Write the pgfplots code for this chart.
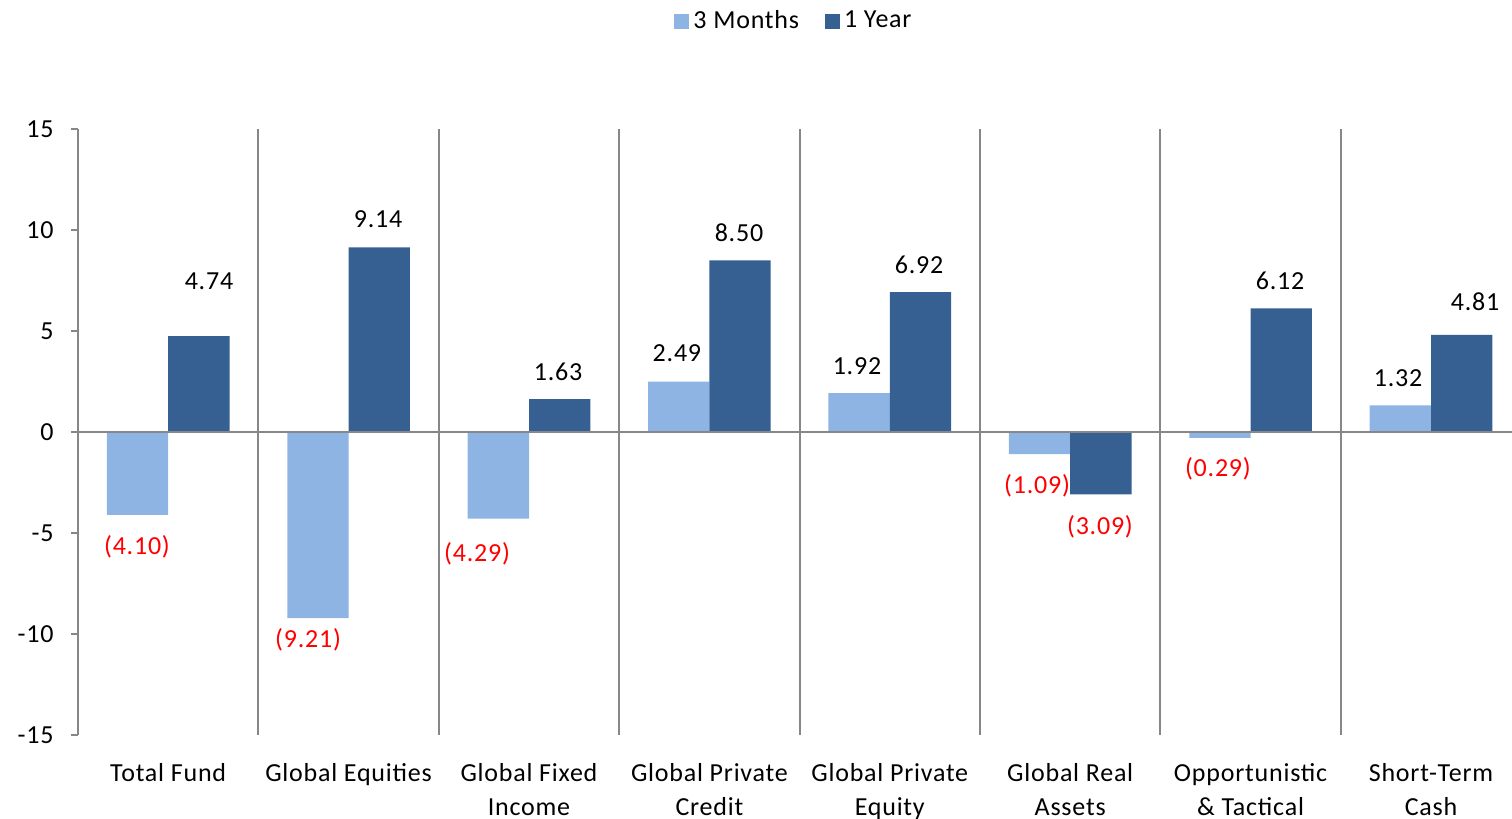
\documentclass[border=0pt]{standalone}
\usepackage{fontspec}
\setmainfont{Carlito}[LetterSpace=3]
\usepackage{pgfplots}
\pgfplotsset{compat=1.18}
\definecolor{lightb}{HTML}{8EB4E3}
\definecolor{darkb}{HTML}{366092}
\definecolor{axgray}{HTML}{878787}
\newcommand\lblfont{\fontsize{13}{17}\selectfont}
\begin{document}
\begin{tikzpicture}
\useasboundingbox (0,0) rectangle (756pt,409.5pt);
\begin{axis}[
  at={(39pt,345pt)}, anchor=north west,
  scale only axis, width=717pt, height=303pt,
  xmin=-0.5, xmax=7.449, ymin=-15, ymax=15,
  axis y line*=left, axis x line*=bottom,
  x axis line style={draw=none},
  y axis line style={axgray, line width=1pt},
  ytick={-15,-10,...,15},
  ytick style={axgray, line width=1pt},
  tick align=outside, major tick length=3.5pt,
  xtick={0,...,7}, xtick style={draw=none},
  xticklabels={Total Fund, Global Equities, {Global Fixed\\Income}, {Global Private\\Credit}, {Global Private\\Equity}, {Global Real\\Assets}, {Opportunistic\\\& Tactical}, {Short-Term\\Cash}},
  xticklabel style={align=center, anchor=north, inner sep=0pt, yshift=-10.5pt, font=\lblfont},
  yticklabel style={anchor=east, inner sep=0pt, xshift=-8.5pt, font=\lblfont},
  /pgf/number format/assume math mode=true,
  clip=false,
  legend style={at={(0.5,1.178)}, anchor=center, draw=none, legend columns=2, font=\lblfont, /tikz/every even column/.append style={column sep=11pt}},
]
\foreach \k in {0.5,1.5,...,6.5} {
  \edef\tmp{\noexpand\draw[axgray, line width=1pt] (axis cs:\k,-15) -- (axis cs:\k,15);}
  \tmp
}
\addplot[ybar, fill=lightb, draw=none, bar width=0.34, bar shift=-0.17,
  legend image code/.code={\fill[lightb] (0pt,-3.75pt) rectangle (7.5pt,3.75pt);}]
  coordinates {(0,-4.10) (1,-9.21) (2,-4.29) (3,2.49) (4,1.92) (5,-1.09) (6,-0.29) (7,1.32)};
\addlegendentry{3 Months}
\addplot[ybar, fill=darkb, draw=none, bar width=0.34, bar shift=0.17,
  legend image code/.code={\fill[darkb] (0pt,-3.75pt) rectangle (7.5pt,3.75pt);}]
  coordinates {(0,4.74) (1,9.14) (2,1.63) (3,8.50) (4,6.92) (5,-3.09) (6,6.12) (7,4.81)};
\addlegendentry{1 Year}
\draw[axgray, line width=1pt] (axis cs:-0.5,0) -- (axis cs:7.449,0);
\begin{scope}[every node/.style={font=\lblfont, inner sep=0pt}]
\node at (axis cs:0.226,7.48) {4.74};
\node[red] at (axis cs:-0.173,-5.69) {(4.10)};
\node at (axis cs:1.163,10.54) {9.14};
\node[red] at (axis cs:0.775,-10.30) {(9.21)};
\node at (axis cs:2.161,2.97) {1.63};
\node[red] at (axis cs:1.712,-6.04) {(4.29)};
\node at (axis cs:2.820,3.91) {2.49};
\node at (axis cs:3.164,9.85) {8.50};
\node at (axis cs:3.818,3.27) {1.92};
\node at (axis cs:4.162,8.27) {6.92};
\node[red] at (axis cs:4.816,-2.67) {(1.09)};
\node[red] at (axis cs:5.165,-4.70) {(3.09)};
\node[red] at (axis cs:5.819,-1.83) {(0.29)};
\node at (axis cs:6.163,7.48) {6.12};
\node at (axis cs:6.817,2.67) {1.32};
\node at (axis cs:7.244,6.44) {4.81};
\end{scope}
\end{axis}
\end{tikzpicture}
\end{document}
